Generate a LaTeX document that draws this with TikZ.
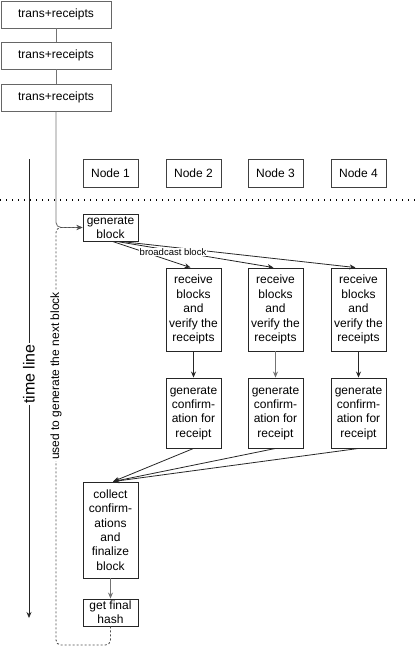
\documentclass[tikz,border=0pt]{standalone}
\usepackage{fontspec}
\setmainfont{Liberation Sans}
\usetikzlibrary{arrows.meta,positioning}
\begin{document}
\begin{tikzpicture}[x=1pt,y=-1pt,
  box/.style={draw=black!85, line width=0.9pt, inner sep=0pt, align=center, minimum width=55pt, font=\fontsize{12}{14.4}\selectfont},
  tbox/.style={draw=black!60, line width=0.9pt, inner sep=0pt, minimum width=110pt, minimum height=27pt, font=\fontsize{12}{14.4}\selectfont},
  conn/.style={line width=0.8pt, draw=black!85},
  grayconn/.style={line width=0.9pt, draw=black!55},
  arr/.style={-{Stealth[length=6pt,width=5pt]}},
  loop/.style={draw=black!70, line width=0.9pt, dash pattern=on 2pt off 2pt, rounded corners=5pt},
  lbl/.style={fill=white, inner sep=1pt}
]
\useasboundingbox (0,0) rectangle (415,653);

% transaction chain
\node[tbox] (t1) at (56,14.5) {trans+receipts};
\node[tbox] (t2) at (56,55.5) {trans+receipts};
\node[tbox] (t3) at (56,97.5) {trans+receipts};
\draw[grayconn] (t1) -- (t2);
\draw[grayconn] (t2) -- (t3);

% node headers
\node[box, draw=black!75, minimum height=28pt] (n1) at (110.5,173) {Node 1};
\node[box, draw=black!75, minimum height=28pt] (n2) at (193.5,173) {Node 2};
\node[box, draw=black!75, minimum height=28pt] (n3) at (275.5,173) {Node 3};
\node[box, draw=black!75, minimum height=28pt] (n4) at (358.5,173) {Node 4};

% dotted separator
\coordinate (sepL) at (0,200);
\coordinate (sepR) at (415,200);
\draw[line width=1.1pt, dash pattern=on 1.1pt off 4.9pt] (sepL) -- (sepR);

% time line
\coordinate (tlA) at (29,159);
\coordinate (tlB) at (29,618);
\draw[conn, arr] (tlA) -- (tlB);
\node[lbl, rotate=90, font=\fontsize{16}{19}\selectfont] (tl) at (29,374) {time line};

% blocks
\node[box, minimum height=27pt] (gen) at (110.5,227.5) {generate\\block};
\foreach \i/\x in {2/193.5,3/275.5,4/358.5}{
  \node[box, minimum height=83pt] (r\i) at (\x,309.5) {receive\\blocks\\and\\verify the\\receipts};
  \node[box, minimum height=70pt] (c\i) at (\x,413) {generate\\confirm-\\ation for\\receipt};
}
\node[box, minimum height=96pt] (col) at (110.5,530) {collect\\confirm-\\ations\\and\\finalize\\block};
\node[box, minimum height=27pt] (gfh) at (110.5,612.5) {get final\\hash};

% input to generate block
\draw[grayconn, arr, rounded corners=5pt] (t3.south) |- (gen.west);

% loop back
\coordinate (loopA) at (56,645);
\draw[loop, arr] (gfh.south) |- (loopA) |- (gen.west);
\node[lbl, rotate=90, font=\fontsize{12}{14.4}\selectfont] (used) at (56,376) {used to generate the next block};

% broadcast
\draw[conn, arr] ([xshift=2pt]gen.south) -- ([xshift=-3pt]r2.north);
\draw[conn, arr] ([xshift=6pt]gen.south) -- ([xshift=-2pt]r3.north);
\draw[conn, arr] ([xshift=10pt]gen.south) -- ([xshift=-3pt]r4.north);
\node[lbl, inner sep=0.5pt, font=\fontsize{9.5}{11}\selectfont] (bc) at (173,252) {broadcast block};

% verify -> confirm
\draw[conn, arr] (r2) -- (c2);
\draw[grayconn, arr] (r3) -- (c3);
\draw[conn, arr] (r4) -- (c4);

% confirmations -> collect
\draw[conn, arr] (c2.south) -- ([xshift=2.5pt]col.north);
\draw[conn, arr] (c3.south) -- ([xshift=2.5pt]col.north);
\draw[conn, arr] (c4.south) -- ([xshift=2.5pt]col.north);

% collect -> final hash
\draw[grayconn, arr] (col) -- (gfh);
\end{tikzpicture}
\end{document}
